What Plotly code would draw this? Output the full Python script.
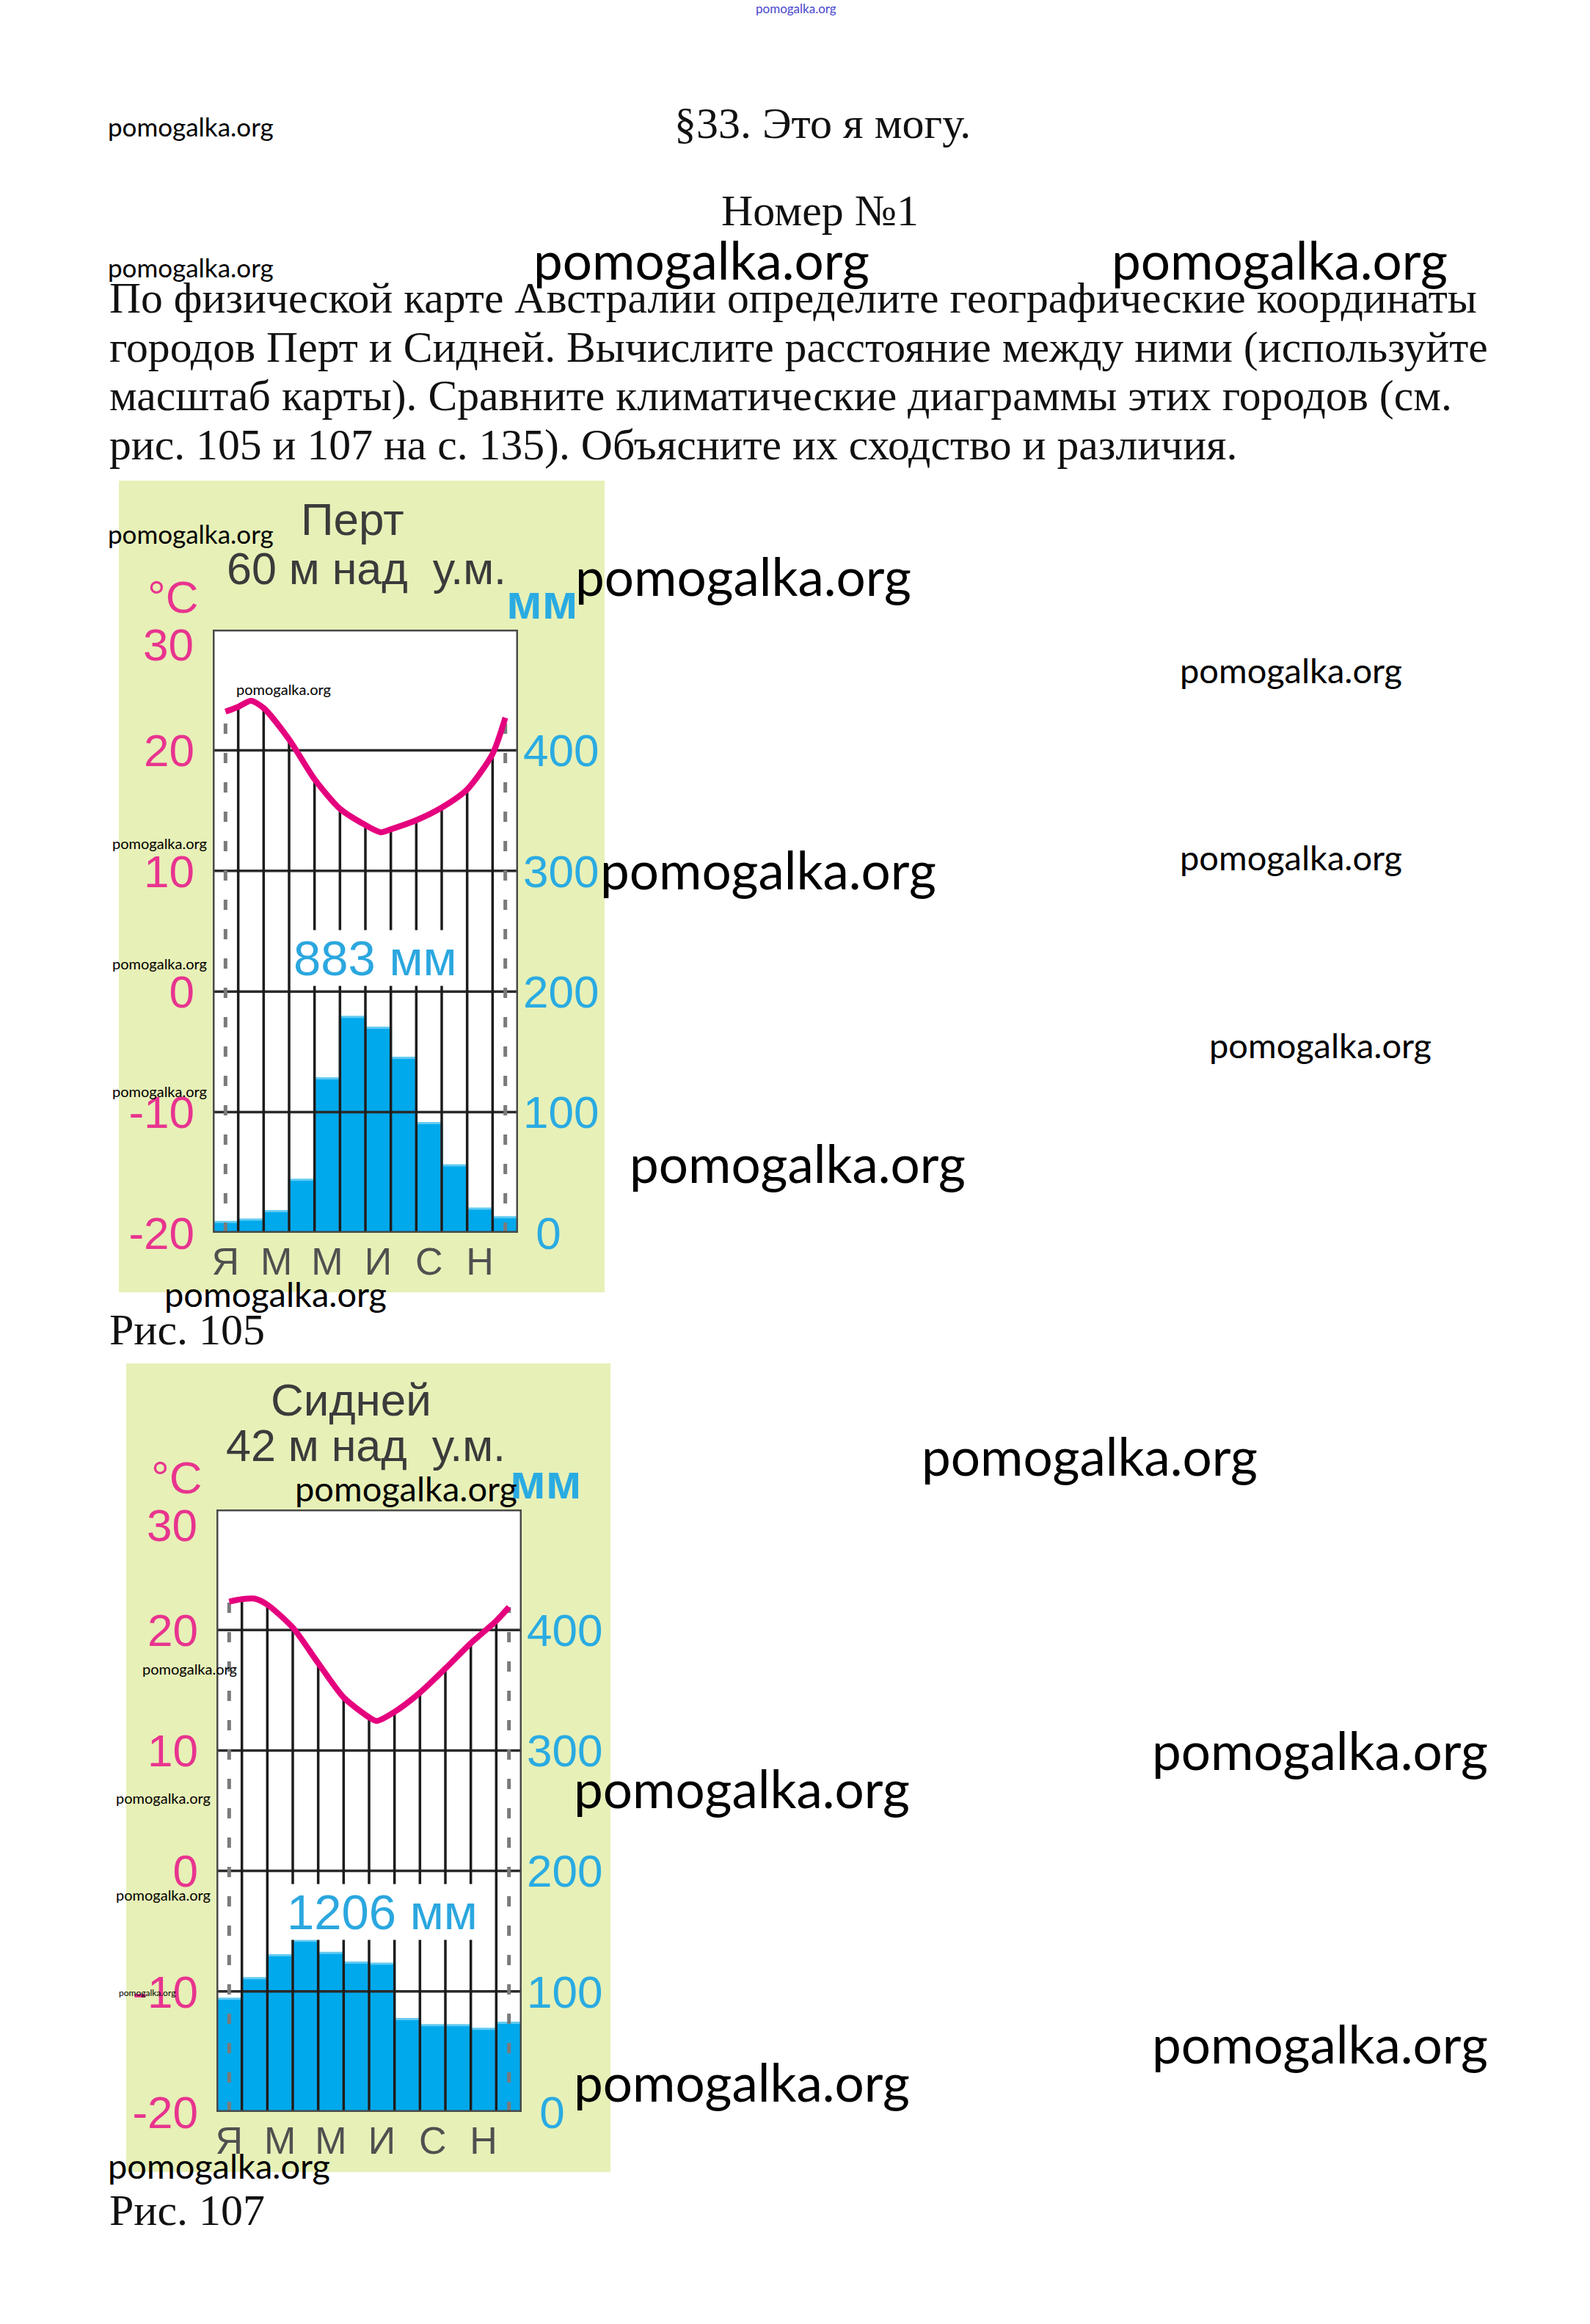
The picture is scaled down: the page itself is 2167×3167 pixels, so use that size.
import plotly.graph_objects as go

W, H = 2167, 3167

# ---------------- data ----------------
months = ["Я", "Ф", "М", "А", "М", "И", "И", "А", "С", "О", "Н", "Д"]
temp_ticks = [30, 20, 10, 0, -10, -20]
precip_ticks = [0, 100, 200, 300, 400]

perth_precip = [9, 11, 18, 44, 128, 179, 170, 145, 91, 56, 20, 13]
perth_temp_pos = [0.5, 1, 1.5, 2, 3, 4, 5, 6, 6.6, 7, 8, 9, 10, 11, 11.5]
perth_temp = [23.2, 23.6, 24.1, 23.5, 20.9, 17.6, 15.15, 13.8, 13.2, 13.45, 14.2, 15.25, 16.75, 19.7, 22.7]

sydney_precip = [94, 111, 130, 142, 132, 124, 123, 77, 72, 72, 69, 74]
sydney_temp_pos = [0.5, 1, 1.5, 2, 3, 4, 5, 6, 6.3, 7, 8, 9, 10, 11, 11.5]
sydney_temp = [22.35, 22.55, 22.6, 22.1, 20.2, 17.25, 14.4, 12.75, 12.45, 13.2, 14.8, 16.8, 18.9, 20.75, 21.9]

# ---------------- styles ----------------
GREEN = "#e7f0b7"
BAR = "#00a9ec"
BAR_TOP = "#62cbf2"
MAGENTA = "#e5007e"
PINK = "#e8348f"
CYAN = "#2aabe2"
GRID = "#2a2a2a"
SANS = "Liberation Sans, Arial, sans-serif"
SERIF = "Liberation Serif, Times New Roman, serif"
WM = "Lato, sans-serif"


def fx(px):
    return px / W


def fy(py):
    return 1 - py / H


fig = go.Figure()
shapes = []
annotations = []


def ann(text, x, y, size, color="#000", family=SANS, xanchor="left", weight="normal", **kw):
    annotations.append(dict(text=text, x=fx(x), y=fy(y), xref="paper", yref="paper",
                            xanchor=xanchor, yanchor="middle", showarrow=False,
                            font=dict(size=size, color=color, family=family, weight=weight), **kw))


def climate(idx, precip, tpos, temp, box, plot, title, elev, total, total_xy):
    xa = "x" if idx == 1 else "x%d" % idx
    yp = "y" if idx == 1 else "y%d" % (2 * idx - 1)
    yt = "y%d" % (2 * idx)
    gx0, gy0, gx1, gy1 = box
    px0, py0, px1, py1 = plot
    shapes.append(dict(type="rect", xref="paper", yref="paper", x0=fx(gx0), x1=fx(gx1),
                       y0=fy(gy1), y1=fy(gy0), fillcolor=GREEN, line=dict(width=0), layer="below"))
    shapes.append(dict(type="rect", xref="paper", yref="paper", x0=fx(px0), x1=fx(px1),
                       y0=fy(py1), y1=fy(py0), fillcolor="white", line=dict(width=0), layer="below"))

    centers = [i + 0.5 for i in range(len(precip))]
    fig.add_trace(go.Bar(x=centers, y=precip, width=1, xaxis=xa, yaxis=yp,
                         marker=dict(color=BAR, line=dict(color=BAR_TOP, width=3))))
    gxs, gys = [], []
    for v in temp_ticks[1:-1]:
        gxs += [0, 12, None]
        gys += [v, v, None]
    fig.add_trace(go.Scatter(x=gxs, y=gys, mode="lines", xaxis=xa, yaxis=yt,
                             line=dict(color=GRID, width=3.5)))
    dxs, dys = [], []
    for p, t in zip(tpos, temp):
        if float(p).is_integer() and 0 < p < 12:
            dxs += [p, p, None]
            dys += [temp_ticks[-1], t, None]
    fig.add_trace(go.Scatter(x=dxs, y=dys, mode="lines", xaxis=xa, yaxis=yt,
                             line=dict(color="#1c1c1c", width=3.5)))
    exs = [tpos[0], tpos[0], None, tpos[-1], tpos[-1]]
    eys = [temp_ticks[-1], temp[0], None, temp_ticks[-1], temp[-1]]
    fig.add_trace(go.Scatter(x=exs, y=eys, mode="lines", xaxis=xa, yaxis=yt,
                             line=dict(color="#7a7a7a", width=5, dash="14px,26px")))
    fig.add_trace(go.Scatter(x=tpos, y=temp, mode="lines", xaxis=xa, yaxis=yt,
                             line=dict(color=MAGENTA, width=8, shape="spline", smoothing=0.7)))
    shapes.append(dict(type="rect", xref=xa, yref=yp, x0=0, x1=12, y0=0, y1=500,
                       line=dict(color="#4a4a4a", width=5), layer="above"))

    dom_x = [fx(px0), fx(px1)]
    dom_y = [fy(py1), fy(py0)]
    key = "xaxis" if idx == 1 else "xaxis%d" % idx
    fig.layout[key] = dict(domain=dom_x, range=[0, 12], anchor=yp, showgrid=False,
                           zeroline=False, showline=False, ticks="", automargin=False,
                           tickvals=centers[::2], ticktext=months[::2],
                           tickfont=dict(size=52, color="#505050", family=SANS),
                           ticklabelstandoff=4, fixedrange=True)
    kp = "yaxis" if idx == 1 else "yaxis%d" % (2 * idx - 1)
    kt = "yaxis%d" % (2 * idx)
    fig.layout[kp] = dict(domain=dom_y, range=[0, 500], anchor=xa, side="right",
                          tickvals=precip_ticks,
                          ticktext=[("\u00a0%d" % v) if v < 100 else str(v) for v in precip_ticks],
                          showgrid=False, zeroline=False, ticks="", automargin=False,
                          tickfont=dict(size=62, color=CYAN, family=SANS),
                          ticklabelstandoff=6, fixedrange=True)
    # the top label (30) sits a little below its line, so it is placed separately
    fig.layout[kt] = dict(range=[-20, 30], overlaying=yp, anchor=xa, side="left",
                          tickvals=temp_ticks[1:], ticktext=[str(v) for v in temp_ticks[1:]],
                          showgrid=False, zeroline=False, ticks="", automargin=False,
                          tickfont=dict(size=62, color=PINK, family=SANS),
                          ticklabelstandoff=24, fixedrange=True)
    annotations.append(dict(text=str(temp_ticks[0]), xref="paper", x=fx(px0 - 24),
                            yref=yt, y=temp_ticks[0], xanchor="right", yanchor="middle",
                            yshift=-21, showarrow=False,
                            font=dict(size=62, color=PINK, family=SANS)))

    ann(title[0], title[1], title[2], 62, "#3b3b3b", xanchor="center")
    ann(elev[0], elev[1], elev[2], 61, "#3b3b3b", xanchor="center")
    ann("°C", px0 - 54, py0 - 44, 62, PINK, xanchor="center")
    ann("мм", px1 + 33, py0 - 38, 66, CYAN, xanchor="center", weight="bold")
    ann(total, total_xy[0], total_xy[1], 67, "#2ba7df", xanchor="center",
        bgcolor="white", borderpad=0)


climate(1, perth_precip, perth_temp_pos, perth_temp,
        box=(162, 655, 824, 1761), plot=(290, 858, 706, 1680),
        title=("Перт", 480, 708), elev=("60 м над\u00a0 у.м.", 499, 775),
        total="883 мм", total_xy=(511, 1305))
climate(2, sydney_precip, sydney_temp_pos, sydney_temp,
        box=(172, 1858, 832, 2960), plot=(295, 2057, 711, 2878),
        title=("Сидней", 478, 1907), elev=("42 м над\u00a0 у.м.", 498, 1970),
        total="1206 мм", total_xy=(521, 2605))

# ---------------- page text ----------------
ann("§33. Это я могу.", 1121, 168, 60, "#111", SERIF, "center")
ann("Номер №1", 1117, 287, 60, "#111", SERIF, "center")
para = [
    "По физической карте Австралии определите географические координаты",
    "городов Перт и Сидней. Вычислите расстояние между ними (используйте",
    "масштаб карты). Сравните климатические диаграммы этих городов (см.",
    "рис. 105 и 107 на с. 135). Объясните их сходство и различия.",
]
for i, line in enumerate(para):
    ann(line, 147, 406 + 66.7 * i, 59.7, "#111", SERIF)
ann("Рис. 105", 147, 1812, 60, "#111", SERIF)
ann("Рис. 107", 147, 3012, 60, "#111", SERIF)

# watermarks
ann("pomogalka.org", 1028, 12, 17, "#4646cc", WM)
wm = [
    (145, 172, 35), (145, 364, 35), (725, 354, 71), (1513, 354, 71), (145, 727, 35),
    (782, 784, 71), (1606, 913, 47), (320, 939, 20), (151, 1149, 20), (816, 1184, 71),
    (1606, 1168, 47), (151, 1313, 20), (1646, 1424, 47), (151, 1487, 20), (856, 1584, 71),
    (222, 1763, 47), (1254, 1984, 71), (400, 2028, 47), (192, 2274, 20), (780, 2436, 71),
    (1568, 2384, 71), (156, 2450, 20), (156, 2582, 20), (160, 2715, 12), (780, 2836, 71),
    (1568, 2784, 71), (145, 2951, 47),
]
for x, y, s in wm:
    ann("pomogalka.org", x, y, s, "#000", WM)

fig.update_layout(width=W, height=H,
                  margin=dict(l=0, r=0, t=0, b=0, pad=0, autoexpand=False),
                  paper_bgcolor="white", plot_bgcolor="white", showlegend=False,
                  hovermode=False, bargap=0, shapes=shapes, annotations=annotations)

fig.write_html("out.html", config={"displayModeBar": False, "staticPlot": True},
               post_script="document.body.style.margin='0';")
